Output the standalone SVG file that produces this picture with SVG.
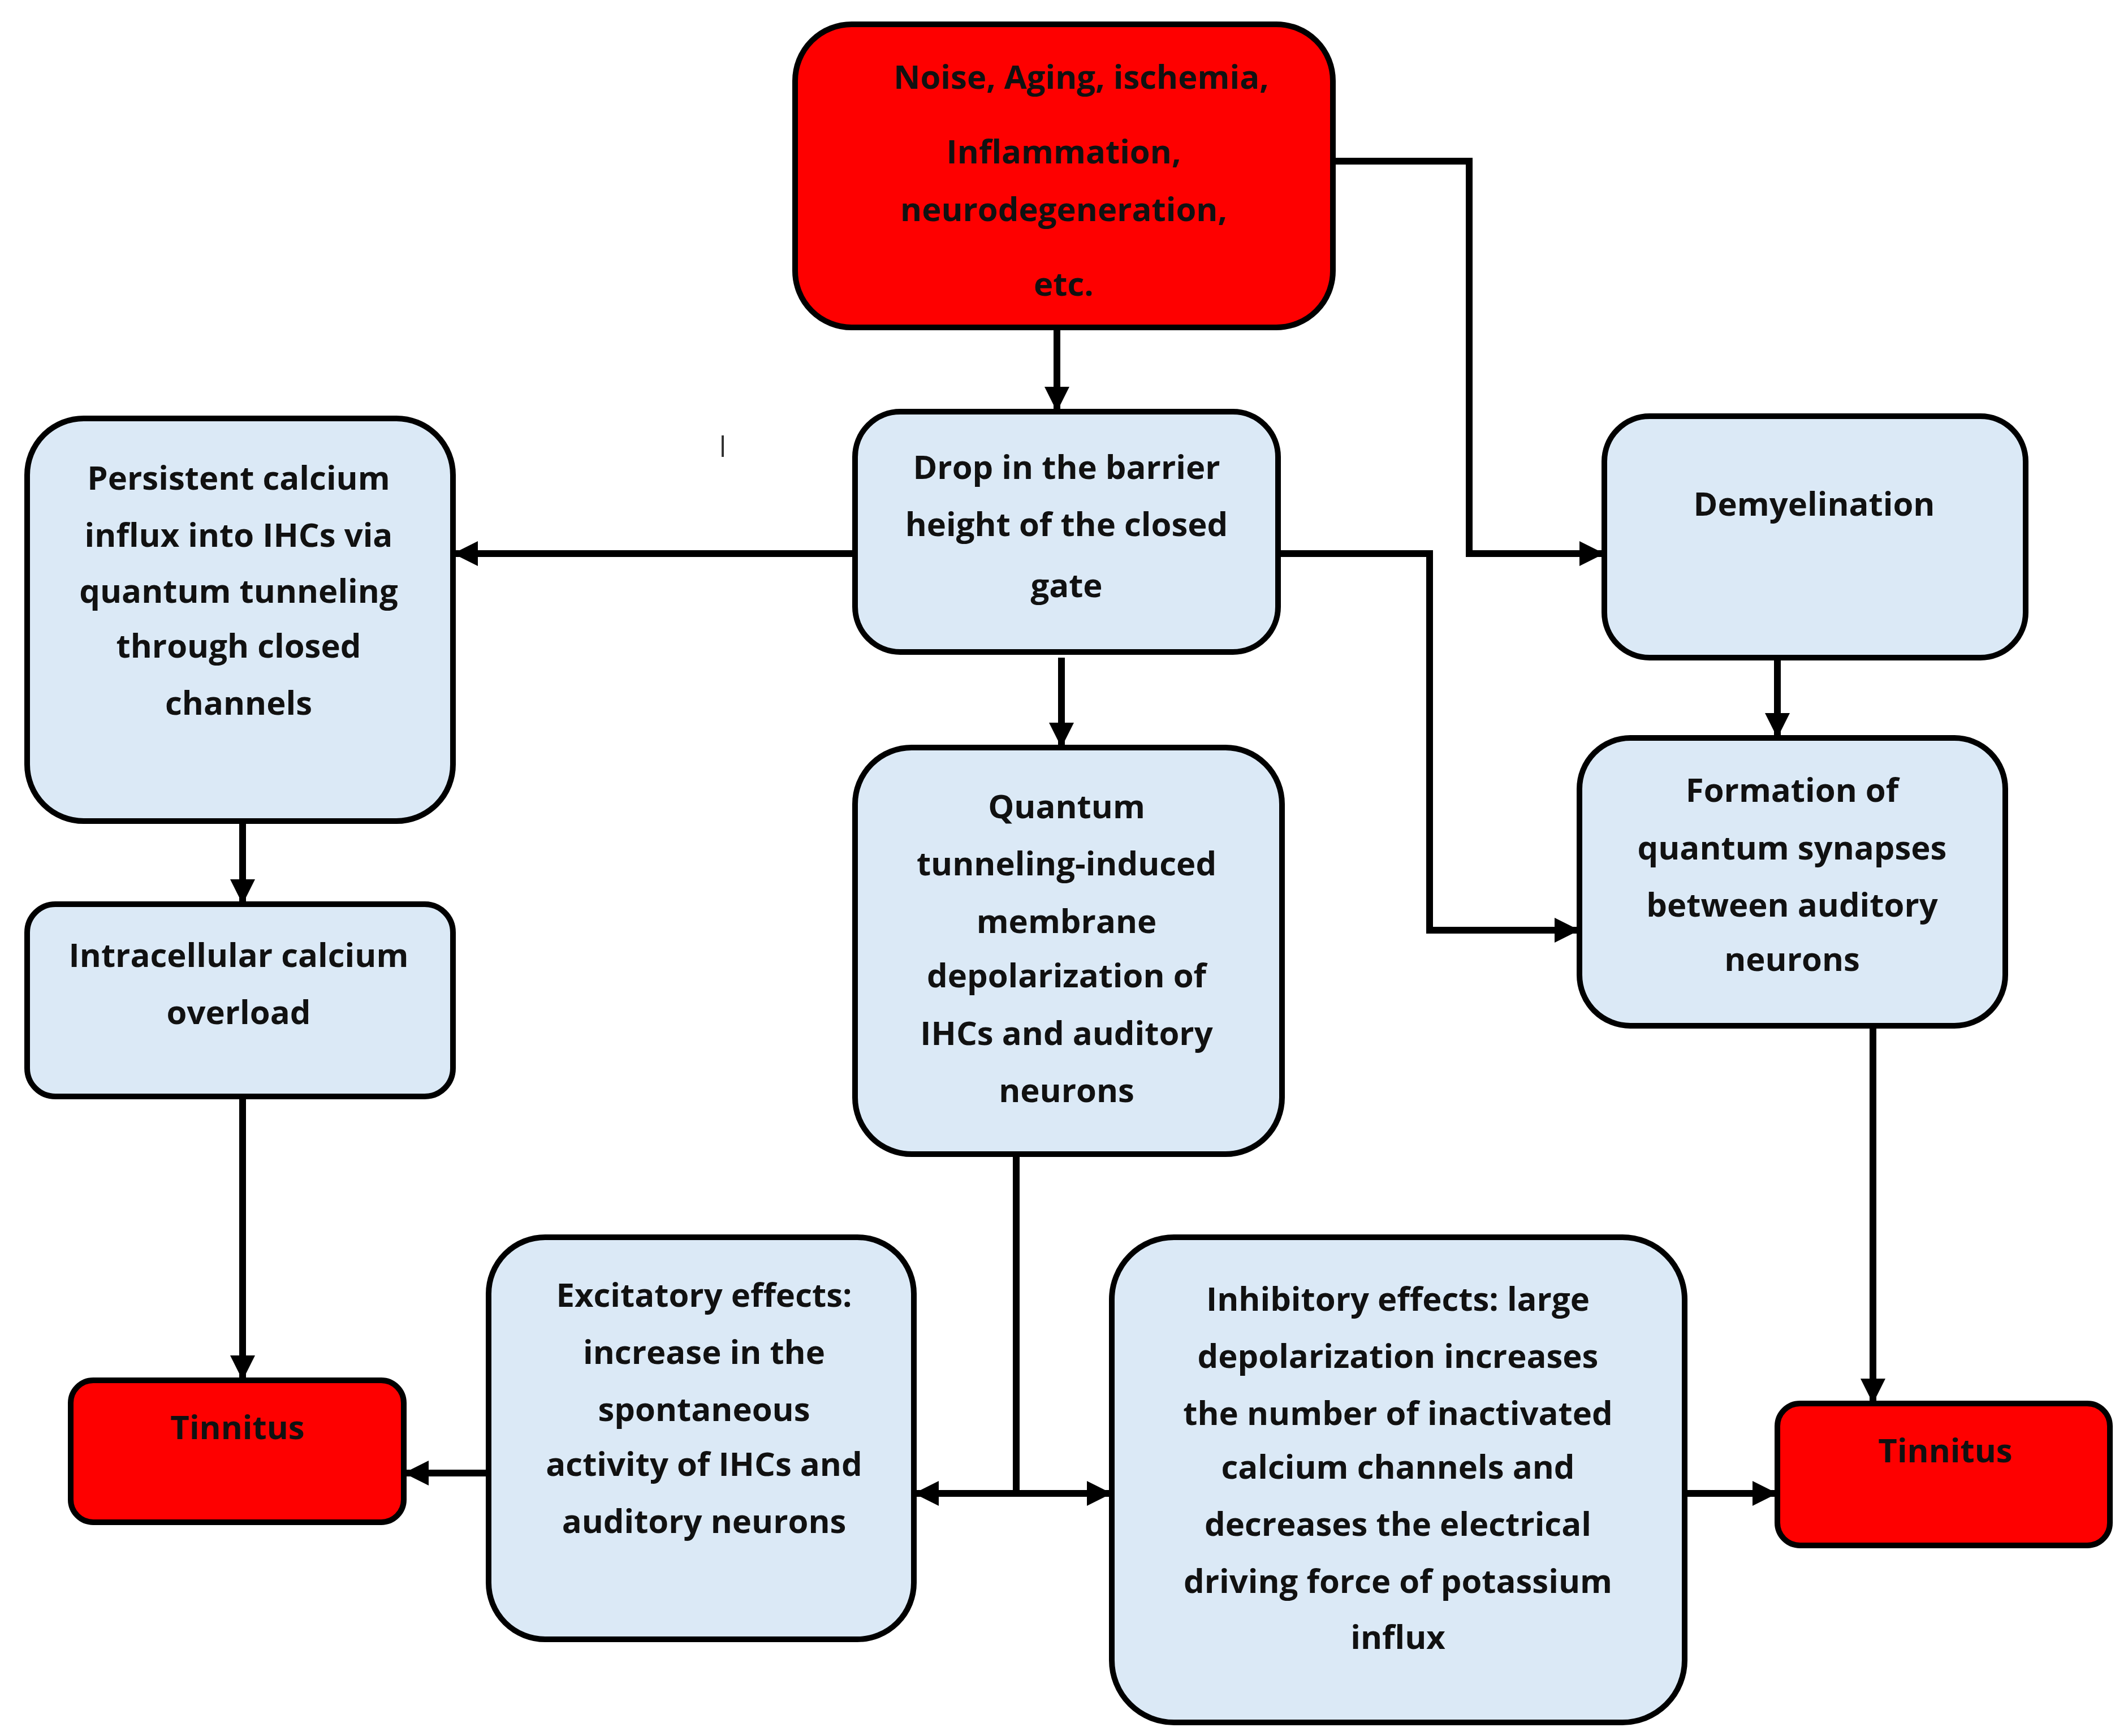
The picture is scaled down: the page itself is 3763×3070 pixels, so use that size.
<svg xmlns="http://www.w3.org/2000/svg" width="3763" height="3070" viewBox="0 0 3763 3070">
<style>
.b{fill:#dbe9f6;stroke:#000;stroke-width:10}
.r{fill:#fe0000;stroke:#000;stroke-width:10}
text{font-family:"Open Sans","Noto Sans",sans-serif;font-weight:bold;font-size:58px;text-anchor:middle;fill:#111}
.c{fill:none;stroke:#000;stroke-width:12}
</style>
<defs>
<marker id="a" markerUnits="userSpaceOnUse" markerWidth="50" markerHeight="50" refX="44" refY="22" orient="auto" viewBox="0 0 50 44">
<path d="M0,0 L44,22 L0,44 Z" fill="#000"/>
</marker>
</defs>
<rect width="3763" height="3070" fill="#fff"/>
<g id="connectors">
<path class="c" d="M1869,579 V728" marker-end="url(#a)"/>
<path class="c" d="M2357,285 H2598 V979 H2837" marker-end="url(#a)"/>
<path class="c" d="M1512,979 H801" marker-end="url(#a)"/>
<path class="c" d="M2260,979 H2528 V1645 H2793" marker-end="url(#a)"/>
<path class="c" d="M1877,1163 V1322" marker-end="url(#a)"/>
<path class="c" d="M429,1452 V1599" marker-end="url(#a)"/>
<path class="c" d="M429,1939 V2441" marker-end="url(#a)"/>
<path class="c" d="M3143,1163 V1305" marker-end="url(#a)"/>
<path class="c" d="M3312,1814 V2482" marker-end="url(#a)"/>
<path class="c" d="M1797,2041 V2641"/>
<path class="c" d="M1797,2641 H1616" marker-end="url(#a)"/>
<path class="c" d="M1797,2641 H1966" marker-end="url(#a)"/>
<path class="c" d="M864,2605 H714" marker-end="url(#a)"/>
<path class="c" d="M2979,2641 H3143" marker-end="url(#a)"/>
</g>
<line x1="1278" y1="770" x2="1278" y2="808" stroke="#333" stroke-width="4"/>
<g id="top"><rect class="r" x="1406" y="43" width="951" height="536" rx="100"/>
<text x="1912" y="157">Noise, Aging, ischemia,</text><text x="1881" y="289">Inflammation,</text><text x="1881" y="391">neurodegeneration,</text><text x="1881" y="523">etc.</text></g>
<g id="drop"><rect class="b" x="1512" y="728" width="748" height="425" rx="80"/>
<text x="1886" y="847">Drop in the barrier</text><text x="1886" y="948">height of the closed</text><text x="1886" y="1056">gate</text></g>
<g id="persistent"><rect class="b" x="48" y="740" width="753" height="712" rx="100"/>
<text x="422" y="866">Persistent calcium</text><text x="422" y="967">influx into IHCs via</text><text x="422" y="1066">quantum tunneling</text><text x="422" y="1163">through closed</text><text x="422" y="1264">channels</text></g>
<g id="overload"><rect class="b" x="48" y="1599" width="753" height="340" rx="50"/>
<text x="422" y="1710">Intracellular calcium</text><text x="422" y="1811">overload</text></g>
<g id="tinnitus1"><rect class="r" x="125" y="2441" width="589" height="251" rx="40"/>
<text x="420" y="2545">Tinnitus</text></g>
<g id="quantum"><rect class="b" x="1512" y="1322" width="755" height="719" rx="100" stroke-width="16"/>
<text x="1886" y="1447">Quantum</text><text x="1886" y="1548">tunneling-induced</text><text x="1886" y="1650">membrane</text><text x="1886" y="1746">depolarization of</text><text x="1886" y="1848">IHCs and auditory</text><text x="1886" y="1949">neurons</text></g>
<g id="demyelination"><rect class="b" x="2837" y="736" width="745" height="427" rx="80"/>
<text x="3208" y="912">Demyelination</text></g>
<g id="formation"><rect class="b" x="2793" y="1305" width="753" height="509" rx="90"/>
<text x="3169" y="1418">Formation of</text><text x="3169" y="1520">quantum synapses</text><text x="3169" y="1621">between auditory</text><text x="3169" y="1717">neurons</text></g>
<g id="tinnitus2"><rect class="r" x="3143" y="2482" width="588" height="251" rx="40"/>
<text x="3440" y="2586">Tinnitus</text></g>
<g id="excitatory"><rect class="b" x="864" y="2188" width="752" height="711" rx="100"/>
<text x="1245" y="2311">Excitatory effects:</text><text x="1245" y="2412">increase in the</text><text x="1245" y="2513">spontaneous</text><text x="1245" y="2610">activity of IHCs and</text><text x="1245" y="2711">auditory neurons</text></g>
<g id="inhibitory"><rect class="b" x="1966" y="2188" width="1013" height="858" rx="110"/>
<text x="2472" y="2318">Inhibitory effects: large</text><text x="2472" y="2419">depolarization increases</text><text x="2472" y="2520">the number of inactivated</text><text x="2472" y="2615">calcium channels and</text><text x="2472" y="2716">decreases the electrical</text><text x="2472" y="2817">driving force of potassium</text><text x="2472" y="2916">influx</text></g>
</svg>
